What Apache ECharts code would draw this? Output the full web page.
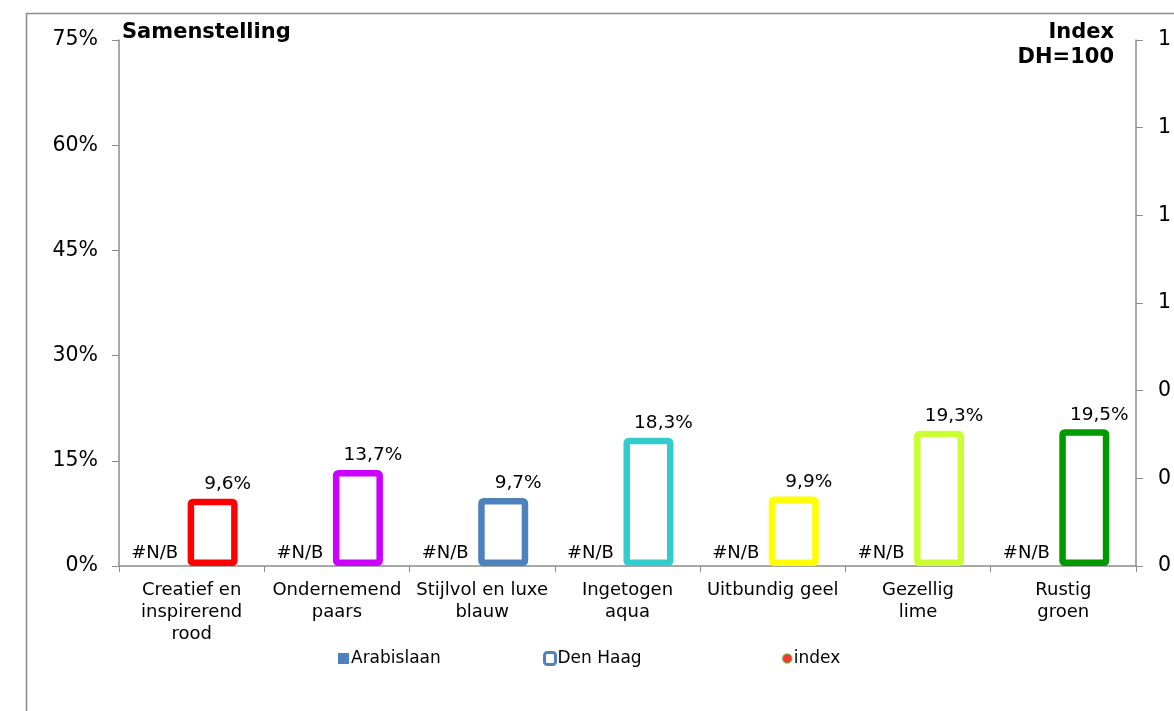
<!DOCTYPE html>
<html>
<head>
<meta charset="utf-8">
<script src="https://cdn.jsdelivr.net/npm/echarts@6/dist/echarts.min.js"></script>
<style>
  html, body { margin: 0; padding: 0; background: #fff; }
  #chart { width: 1174px; height: 711px; }
</style>
</head>
<body>
<div id="chart"></div>
<script>
// categories + values
const categories = [
  "Creatief en\ninspirerend\nrood",
  "Ondernemend\npaars",
  "Stijlvol en luxe\nblauw",
  "Ingetogen\naqua",
  "Uitbundig geel",
  "Gezellig\nlime",
  "Rustig\ngroen",
];
const arabislaan = [null, null, null, null, null, null, null]; // #N/B
const denHaag = [9.6, 13.7, 9.7, 18.3, 9.9, 19.3, 19.5];
const index = [null, null, null, null, null, null, null];
const barColors = ["#FF0000", "#CC00FF", "#4F81BD", "#33CCCC", "#FFFF00", "#CCFF33", "#009900"];
const rightTickLabels = ["0", "0", "0", "1", "1", "1", "1"]; // cut off at the edge

const font = "DejaVu Sans";
const axisGrey = "#8c8c8c";

const chart = echarts.init(document.getElementById("chart"));

const legendText = { fontSize: 17, color: "#000", fontFamily: font, padding: [0, 0, 0, -3] };
const titleFont = "bold 21px '" + font + "'";

const option = {
  animation: false,
  textStyle: { fontFamily: font },
  graphic: [
    {
      type: "rect",
      shape: { x: 26.5, y: 13.5, width: 1200, height: 720 },
      style: { fill: "none", stroke: "#8c8c8c", lineWidth: 1.5 },
      silent: true,
    },
    {
      type: "text",
      left: 122,
      top: 22,
      style: { text: "Samenstelling", font: titleFont, fill: "#000" },
    },
    {
      type: "text",
      right: 60,
      top: 22,
      style: { text: "Index", font: titleFont, fill: "#000" },
    },
    {
      type: "text",
      right: 60,
      top: 47,
      style: { text: "DH=100", font: titleFont, fill: "#000" },
    },
  ],
  legend: [
    {
      left: 333, top: 645,
      data: [{ name: "Arabislaan", icon: "rect", itemStyle: { color: "#4F81BD" } }],
      itemWidth: 11, itemHeight: 11,
      textStyle: legendText,
    },
    {
      left: 538, top: 645,
      data: [{ name: "Den Haag", icon: "roundRect", itemStyle: { color: "#fff", borderColor: "#4F81BD", borderWidth: 3 } }],
      itemWidth: 11, itemHeight: 12,
      textStyle: legendText,
    },
    {
      left: 777, top: 645,
      data: [{ name: "index", icon: "circle", itemStyle: { color: "#FF0000", borderColor: "#66aa33", borderWidth: 1.5 } }],
      itemWidth: 9, itemHeight: 9,
      textStyle: legendText,
    },
  ],
  grid: { left: 119, right: 34, top: 40, bottom: 145 },
  xAxis: {
    type: "category",
    data: categories,
    axisLine: { lineStyle: { color: axisGrey, width: 1.5 } },
    axisTick: { show: true, length: 6, lineStyle: { color: axisGrey } },
    axisLabel: { color: "#000", fontSize: 18, lineHeight: 22, margin: 13, interval: 0, fontFamily: font },
  },
  yAxis: [
    {
      type: "value",
      min: 0, max: 75, interval: 15,
      axisLine: { show: true, lineStyle: { color: axisGrey, width: 1.5 } },
      axisTick: { show: true, length: 7, lineStyle: { color: axisGrey } },
      splitLine: { show: false },
      axisLabel: { formatter: "{value}%", color: "#000", fontSize: 20.5, margin: 21, fontFamily: font },
    },
    {
      type: "value",
      min: 0, max: 6, interval: 1,
      position: "right",
      axisLine: { show: true, lineStyle: { color: axisGrey, width: 1.5 } },
      axisTick: { show: true, length: 7, lineStyle: { color: axisGrey } },
      splitLine: { show: false },
      axisLabel: {
        formatter: (v) => rightTickLabels[Math.round(v)],
        color: "#000", fontSize: 20.5, margin: 22, fontFamily: font,
      },
    },
  ],
  series: [
    {
      name: "Arabislaan",
      type: "bar",
      barWidth: 42,
      barGap: "0%",
      itemStyle: { color: "#4F81BD" },
      data: arabislaan.map((v) => ({ value: v == null ? 0 : v })),
      label: {
        show: true,
        position: "top",
        distance: 4,
        offset: [-12, 0],
        formatter: (p) => (arabislaan[p.dataIndex] == null ? "#N/B" : p.value + "%"),
        color: "#000", fontSize: 18, fontFamily: font,
      },
    },
    {
      name: "Den Haag",
      type: "bar",
      barWidth: 50,
      data: denHaag.map((v, i) => ({
        value: v,
        itemStyle: { color: "#fff", borderColor: barColors[i], borderWidth: 6.5, borderRadius: 2 },
      })),
      label: {
        show: true,
        position: "top",
        distance: 5,
        offset: [15, 0],
        formatter: (p) => String(p.value).replace(".", ",") + "%",
        color: "#000", fontSize: 18.5, fontFamily: font,
      },
    },
    {
      name: "index",
      type: "scatter",
      yAxisIndex: 1,
      symbolSize: 8,
      itemStyle: { color: "#FF0000" },
      data: index,
    },
  ],
};

chart.setOption(option);
</script>
</body>
</html>
